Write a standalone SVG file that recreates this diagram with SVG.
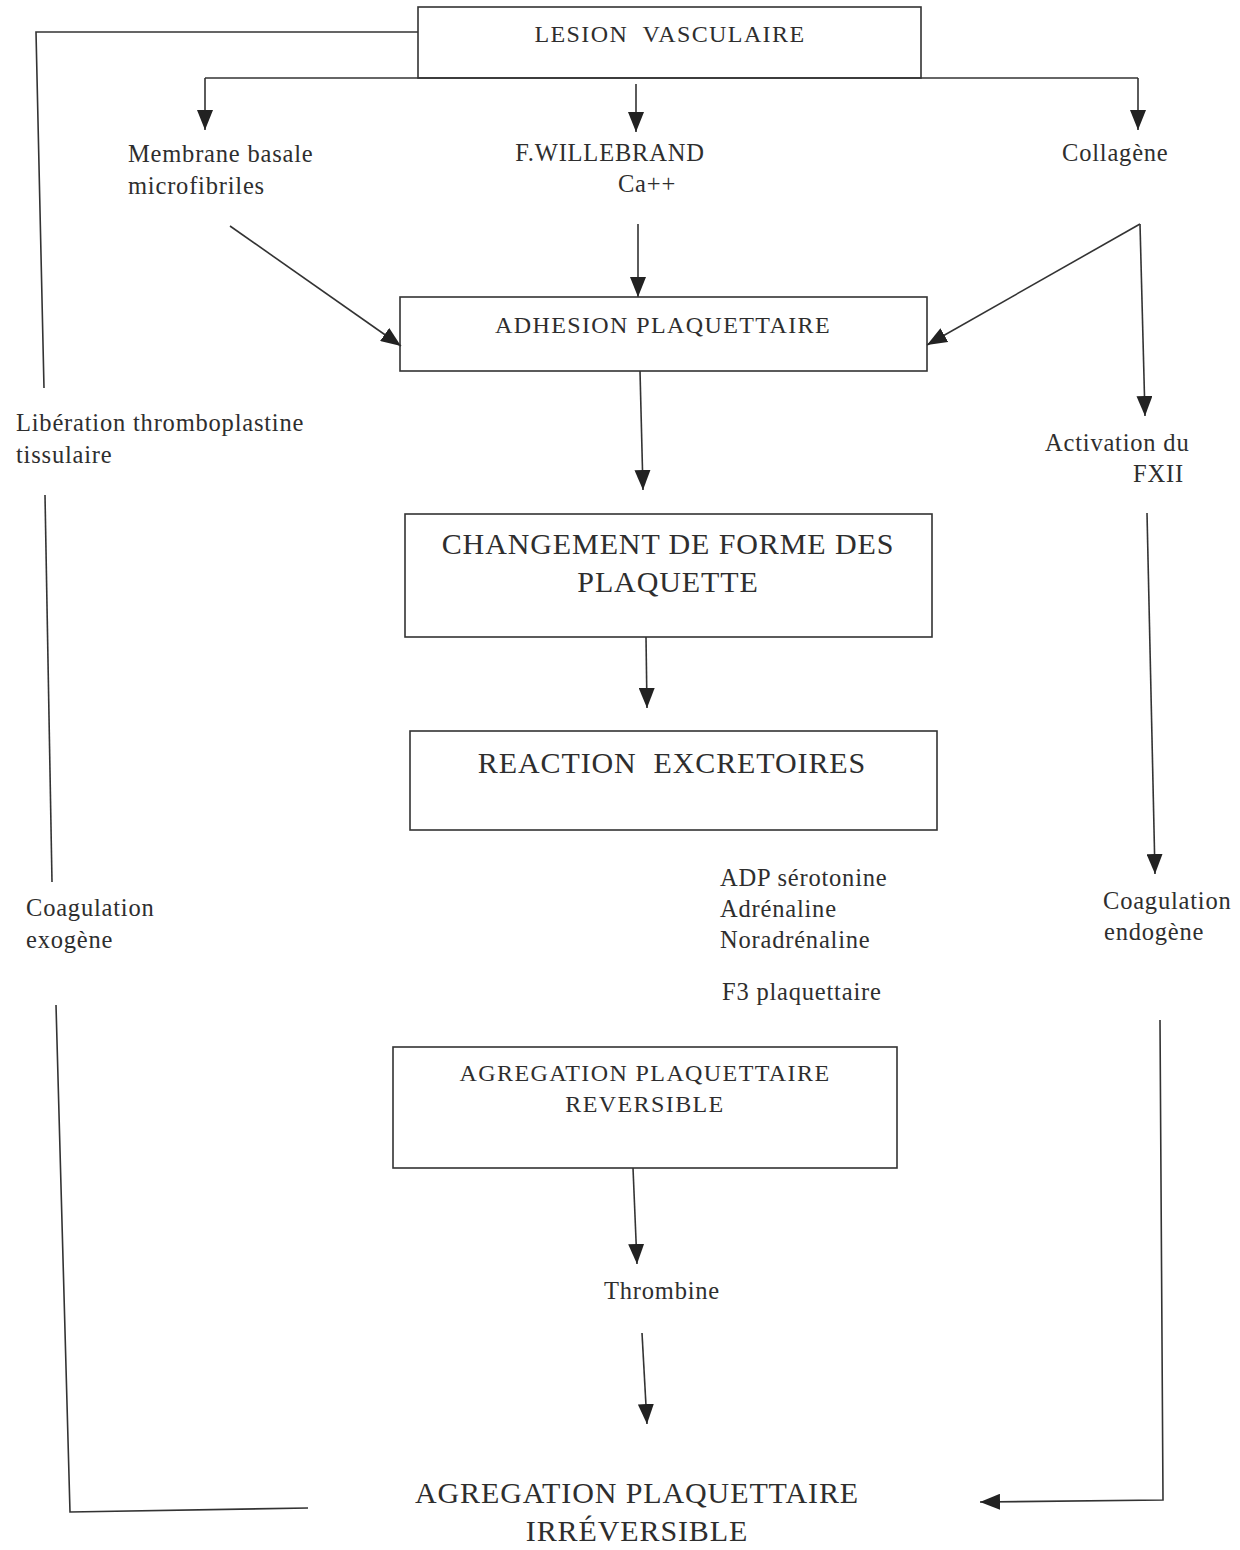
<svg xmlns="http://www.w3.org/2000/svg" width="1240" height="1550" viewBox="0 0 1240 1550">
<style>
text{font-family:"Liberation Serif","Times New Roman",serif;fill:#2e2e2e;white-space:pre}
.s{font-size:24.5px;letter-spacing:0.8px}
.b{font-size:24px;letter-spacing:1.4px}
.l{font-size:30px;letter-spacing:0.9px}
.box{fill:none;stroke:#333;stroke-width:1.6}
.c{fill:none;stroke:#333;stroke-width:1.6}
.m{text-anchor:middle}
</style>
<defs>
<marker id="ah" viewBox="0 0 20 16" refX="20" refY="8" markerWidth="20" markerHeight="16" markerUnits="userSpaceOnUse" orient="auto">
<path d="M0,0 L20,8 L0,16 Z" fill="#222"/>
</marker>
</defs>
<rect width="1240" height="1550" fill="#fff"/>
<g id="connectors">
<polyline class="c" points="418,32 36,32 44,388"/>
<line class="c" x1="45" y1="495" x2="52" y2="882"/>
<polyline class="c" points="56,1005 70,1512 308,1508"/>
<line class="c" x1="205" y1="78" x2="1138" y2="78"/>
<line class="c" x1="205" y1="78" x2="205" y2="130" marker-end="url(#ah)"/>
<line class="c" x1="636" y1="84" x2="636" y2="132" marker-end="url(#ah)"/>
<line class="c" x1="1138" y1="78" x2="1138" y2="130" marker-end="url(#ah)"/>
<line class="c" x1="230" y1="226" x2="401" y2="346" marker-end="url(#ah)"/>
<line class="c" x1="638" y1="224" x2="638" y2="297" marker-end="url(#ah)"/>
<line class="c" x1="1140" y1="224" x2="927" y2="345" marker-end="url(#ah)"/>
<line class="c" x1="1140" y1="224" x2="1145" y2="416" marker-end="url(#ah)"/>
<line class="c" x1="640" y1="371" x2="643" y2="490" marker-end="url(#ah)"/>
<line class="c" x1="646" y1="637" x2="647" y2="708" marker-end="url(#ah)"/>
<line class="c" x1="1147" y1="513" x2="1155" y2="874" marker-end="url(#ah)"/>
<polyline class="c" points="1160,1020 1163,1500 980,1502" marker-end="url(#ah)"/>
<line class="c" x1="633" y1="1168" x2="637" y2="1264" marker-end="url(#ah)"/>
<line class="c" x1="642" y1="1333" x2="647" y2="1424" marker-end="url(#ah)"/>
</g>
<g id="lesion"><rect class="box" x="418" y="7" width="503" height="71"/><text class="b m" x="670" y="42" xml:space="preserve">LESION  VASCULAIRE</text></g>
<g id="membrane"><text class="s" x="128" y="162">Membrane basale</text><text class="s" x="128" y="194">microfibriles</text></g>
<g id="willebrand"><text class="s m" x="610" y="161">F.WILLEBRAND</text><text class="s m" x="647" y="192">Ca++</text></g>
<g id="collagene"><text class="s" x="1062" y="161">Collagène</text></g>
<g id="adhesion"><rect class="box" x="400" y="297" width="527" height="74"/><text class="b m" x="663" y="333">ADHESION PLAQUETTAIRE</text></g>
<g id="liberation"><text class="s" x="16" y="431">Libération thromboplastine</text><text class="s" x="16" y="463">tissulaire</text></g>
<g id="activation"><text class="s" x="1045" y="451">Activation du</text><text class="s" x="1133" y="482">FXII</text></g>
<g id="changement"><rect class="box" x="405" y="514" width="527" height="123"/><text class="l m" x="668" y="554">CHANGEMENT DE FORME DES</text><text class="l m" x="668" y="592">PLAQUETTE</text></g>
<g id="reaction"><rect class="box" x="410" y="731" width="527" height="99"/><text class="l m" x="672" y="773" xml:space="preserve">REACTION  EXCRETOIRES</text></g>
<g id="mediateurs"><text class="s" x="720" y="886">ADP sérotonine</text><text class="s" x="720" y="917">Adrénaline</text><text class="s" x="720" y="948">Noradrénaline</text><text class="s" x="722" y="1000">F3 plaquettaire</text></g>
<g id="exogene"><text class="s" x="26" y="916">Coagulation</text><text class="s" x="26" y="948">exogène</text></g>
<g id="endogene"><text class="s" x="1103" y="909">Coagulation</text><text class="s" x="1104" y="940">endogène</text></g>
<g id="reversible"><rect class="box" x="393" y="1047" width="504" height="121"/><text class="b m" x="645" y="1081">AGREGATION PLAQUETTAIRE</text><text class="b m" x="645" y="1112">REVERSIBLE</text></g>
<g id="thrombine"><text class="s m" x="662" y="1299">Thrombine</text></g>
<g id="irreversible"><text class="l m" x="637" y="1503">AGREGATION PLAQUETTAIRE</text><text class="l m" x="637" y="1541">IRRÉVERSIBLE</text></g>
</svg>
